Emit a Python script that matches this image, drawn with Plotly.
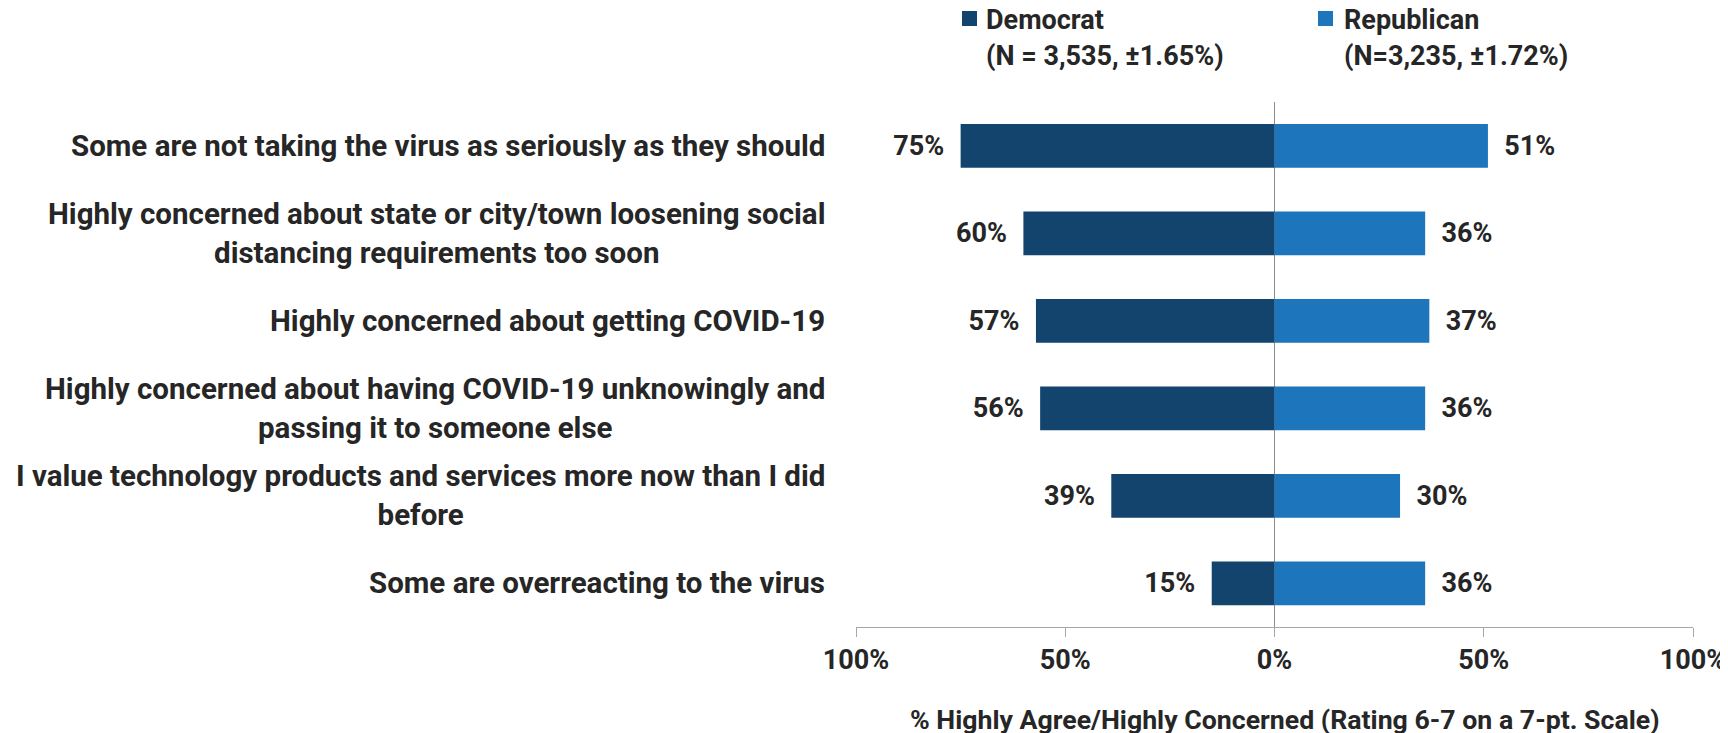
import plotly.graph_objects as go

categories = [
    "Some are not taking the virus as seriously as they should",
    "Highly concerned about state or city/town loosening social<br>distancing requirements too soon",
    "Highly concerned about getting COVID-19",
    "Highly concerned about having COVID-19 unknowingly and<br>passing it to someone else",
    "I value technology products and services more now than I did<br>before",
    "Some are overreacting to the virus",
]
democrat = [75, 60, 57, 56, 39, 15]
republican = [51, 36, 37, 36, 30, 36]
tick_vals = [-100, -50, 0, 50, 100]
tick_text = ["100%", "50%", "0%", "50%", "100%"]
legend_names = [["Democrat", "(N = 3,535, ±1.65%)"], ["Republican", "(N=3,235, ±1.72%)"]]
x_title = "% Highly Agree/Highly Concerned (Rating 6-7 on a 7-pt. Scale)"

DEM_COLOR = "#12446E"
REP_COLOR = "#1D75BC"
TEXT_COLOR = "#262626"
FAM = "Roboto, Arial, sans-serif"
FS = 27
FS_CAT = 29.5

def fnt(size=FS):
    return dict(family=FAM, size=size, color=TEXT_COLOR, weight="bold")

OFF = 8  # browser body margin
W, H = 1728 - OFF, 733 - OFF
# plot area in page pixels: x 856..1693, y 102..627
PX0, PX1, PY0, PY1 = 856, 1693, 102, 627
L = PX0 - OFF
R = W - (PX1 - OFF)
T = PY0 - OFF
B = H - (PY1 - OFF)
pw, ph = PX1 - PX0, PY1 - PY0

def px_x(p):
    return (p - PX0) / pw

def px_y(p):
    return (PY1 - p) / ph

def spaced(text, size):
    # outer font size drives line spacing; inner span sets glyph size
    return "<br>".join(f"<span style='font-size:{size}px'>{ln}</span>" for ln in text.split("<br>"))

NB = "\u00a0"
fig = go.Figure()
fig.add_trace(go.Bar(
    y=categories, x=[-v for v in democrat], orientation="h",
    marker=dict(color=DEM_COLOR, line=dict(width=0)),
    text=[f"{v}%{NB*2}" for v in democrat], textposition="outside",
    textfont=fnt(), cliponaxis=False, showlegend=False, name="Democrat",
))
fig.add_trace(go.Bar(
    y=categories, x=republican, orientation="h",
    marker=dict(color=REP_COLOR, line=dict(width=0)),
    text=[f"{NB*2}{v}%" for v in republican], textposition="outside",
    textfont=fnt(), cliponaxis=False, showlegend=False, name="Republican",
))

annotations = []
for c in categories:
    annotations.append(dict(
        x=px_x(827), xref="paper", y=c, yref="y", text=spaced(c, FS_CAT),
        showarrow=False, xanchor="right", yanchor="middle", align="center",
        font=fnt(38.5 / 1.3),
    ))

# legend (manual, one annotation per line)
for (l1, l2), sx in zip(legend_names, [984, 1342]):
    for ln, cy in [(l1, 20), (l2, 56)]:
        annotations.append(dict(
            x=px_x(sx), xref="paper", y=px_y(cy), yref="paper", text=ln,
            showarrow=False, xanchor="left", yanchor="middle", align="left",
            font=fnt(FS),
        ))

# axis title
annotations.append(dict(
    x=px_x(1285), xref="paper", y=px_y(720), yref="paper", text=x_title,
    showarrow=False, xanchor="center", yanchor="middle", font=fnt(26.7),
))

shapes = []
for color, sx in [(DEM_COLOR, 962), (REP_COLOR, 1318)]:
    shapes.append(dict(
        type="rect", xref="paper", yref="paper",
        x0=px_x(sx), x1=px_x(sx + 15), y0=px_y(26), y1=px_y(11),
        fillcolor=color, line=dict(width=0),
    ))

fig.update_layout(
    width=W, height=H,
    margin=dict(l=L, r=R, t=T, b=B),
    barmode="relative", bargap=0.5,
    plot_bgcolor="white", paper_bgcolor="white",
    font=fnt(),
    annotations=annotations, shapes=shapes,
    showlegend=False,
)
fig.update_xaxes(
    range=[-100, 100], tickvals=tick_vals, ticktext=tick_text,
    showgrid=False, zeroline=True, zerolinecolor="#8c8c8c", zerolinewidth=1,
    showline=True, linecolor="#a6a6a6", linewidth=1,
    ticks="outside", ticklen=9, tickcolor="#a6a6a6",
    tickfont=fnt(), ticklabelstandoff=0, ticklabeloverflow="allow",
    automargin=False,
)
fig.update_yaxes(
    categoryorder="array", categoryarray=categories, autorange="reversed",
    showticklabels=False, showgrid=False, zeroline=False, showline=False, ticks="",
    automargin=False,
)
fig.write_html("out.html")
